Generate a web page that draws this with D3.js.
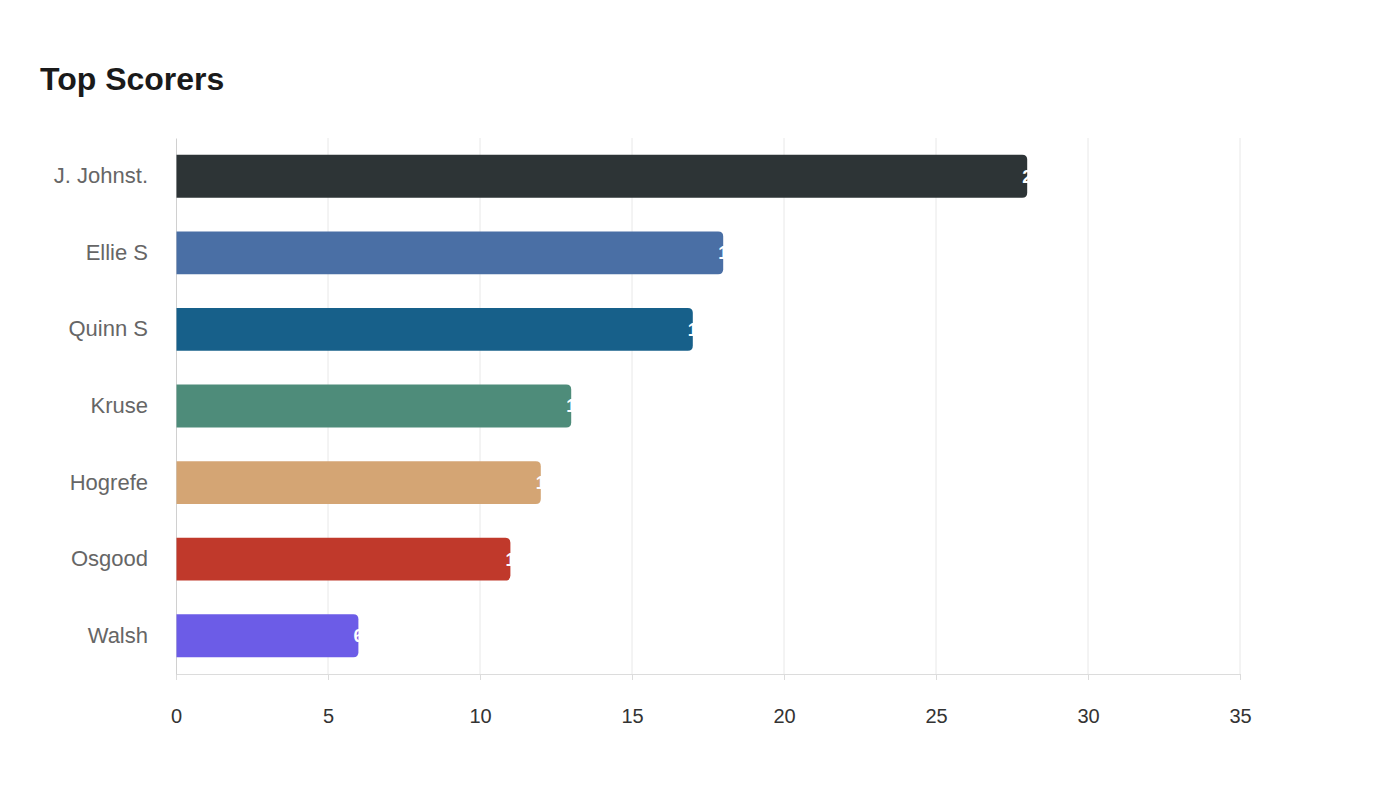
<!DOCTYPE html>
<html><head><meta charset="utf-8">
<script src="https://cdn.jsdelivr.net/npm/d3@7"></script>
<style>body{margin:0;background:#fff;font-family:"Liberation Sans",Arial,sans-serif;}</style>
</head><body><svg id="c" width="1400" height="800"></svg>
<script>
const players = ["J. Johnst.", "Ellie S", "Quinn S", "Kruse", "Hogrefe", "Osgood", "Walsh"];
const goals = [28, 18, 17, 13, 12, 11, 6];
const colors = ["#2d3436", "#4a6fa5", "#17608a", "#4e8c7a", "#d4a574", "#c0392b", "#6c5ce7"];
const xTicks = [0, 5, 10, 15, 20, 25, 30, 35];

const svg = d3.select("#c");
const L = 176, R = 1240, T = 138, B = 674;
const x = d3.scaleLinear().domain([0, 35]).range([L, R]);
const y = d3.scaleBand().domain(players).range([T, B]).paddingInner(0.44).paddingOuter(0.22);

svg.append("text").attr("x", 40).attr("y", 90).text("Top Scorers")
  .attr("font-size", 32).attr("font-weight", "bold").attr("fill", "#1a1a1a");

// grid
svg.append("g").selectAll("line").data(xTicks.slice(1)).join("line")
  .attr("x1", d => x(d)).attr("x2", d => x(d)).attr("y1", T).attr("y2", B)
  .attr("stroke", "#e8e8e8").attr("stroke-width", 1);

// x axis
const xa = svg.append("g").attr("transform", `translate(0,${B})`)
  .call(d3.axisBottom(x).tickValues(xTicks).tickSize(6).tickPadding(29));
xa.select(".domain").attr("stroke", "#dcdcdc");
xa.selectAll(".tick line").attr("stroke", "#dcdcdc");
xa.selectAll(".tick text").attr("font-size", 20).attr("fill", "#333").attr("font-family", "Liberation Sans, Arial, sans-serif");

// y axis
const ya = svg.append("g").attr("transform", `translate(${L},0)`)
  .call(d3.axisLeft(y).tickSize(0).tickPadding(28));
ya.select(".domain").attr("stroke", "#d0d0d0");
ya.selectAll(".tick text").attr("font-size", 22).attr("fill", "#666").attr("font-family", "Liberation Sans, Arial, sans-serif");

const data = players.map((p, i) => ({p, v: goals[i], c: colors[i]}));
function barPath(d) {
  const x0 = x(0) + 0.5, x1 = x(d.v), y0 = y(d.p), h = y.bandwidth(), r = 5;
  return `M${x0},${y0}H${x1 - r}Q${x1},${y0} ${x1},${y0 + r}V${y0 + h - r}Q${x1},${y0 + h} ${x1 - r},${y0 + h}H${x0}Z`;
}
svg.append("g").selectAll("path").data(data).join("path")
  .attr("d", barPath).attr("fill", d => d.c);

svg.append("g").selectAll("text").data(data).join("text")
  .attr("x", d => x(d.v) - 5).attr("y", d => y(d.p) + y.bandwidth() / 2)
  .attr("dy", "0.36em").attr("font-size", 18).attr("font-weight", "bold")
  .attr("fill", "#fff").text(d => d.v);
</script></body></html>
